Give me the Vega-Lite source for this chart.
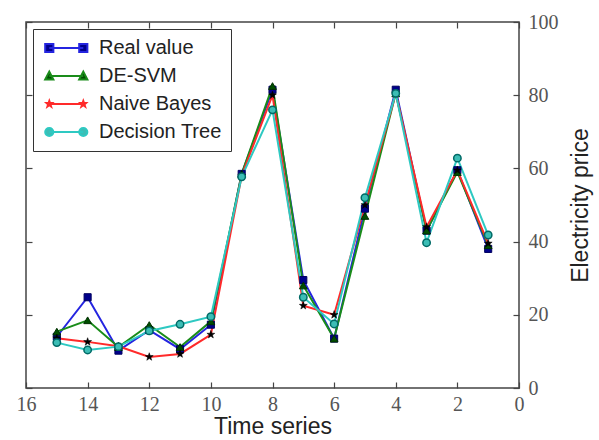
{
  "$schema": "https://vega.github.io/schema/vega-lite/v6.json",
  "width": 493,
  "height": 366,
  "autosize": {"type": "none"},
  "padding": {"left": 26, "top": 22, "right": 80, "bottom": 52},
  "background": "white",
  "config": {
    "view": {"stroke": "#444", "strokeWidth": 1.5},
    "axis": {"grid": false, "domain": false, "tickColor": "#444", "tickWidth": 1.2, "labelFlush": false},
    "legend": {"orient": "top-left", "offset": 7, "padding": 9, "strokeColor": "#333", "fillColor": "white",
      "labelFont": "Liberation Sans", "labelFontSize": 20, "labelColor": "#222", "rowPadding": 8, "labelOffset": 37,
      "symbolSize": 185, "symbolStrokeWidth": 2, "symbolOpacity": 1}
  },
  "data": {"values": [
    {"t":15,"series":"Real value","value":14},
    {"t":14,"series":"Real value","value":24.8},
    {"t":13,"series":"Real value","value":10.2},
    {"t":12,"series":"Real value","value":15.8},
    {"t":11,"series":"Real value","value":10.6},
    {"t":10,"series":"Real value","value":17.3},
    {"t":9,"series":"Real value","value":58.5},
    {"t":8,"series":"Real value","value":81.5},
    {"t":7,"series":"Real value","value":29.5},
    {"t":6,"series":"Real value","value":13.5},
    {"t":5,"series":"Real value","value":49},
    {"t":4,"series":"Real value","value":81.5},
    {"t":3,"series":"Real value","value":43},
    {"t":2,"series":"Real value","value":59.5},
    {"t":1,"series":"Real value","value":38},
    {"t":15,"series":"DE-SVM","value":15.4},
    {"t":14,"series":"DE-SVM","value":18.5},
    {"t":13,"series":"DE-SVM","value":11.2},
    {"t":12,"series":"DE-SVM","value":17.2},
    {"t":11,"series":"DE-SVM","value":11.2},
    {"t":10,"series":"DE-SVM","value":18.2},
    {"t":9,"series":"DE-SVM","value":58.5},
    {"t":8,"series":"DE-SVM","value":82.5},
    {"t":7,"series":"DE-SVM","value":28},
    {"t":6,"series":"DE-SVM","value":13.5},
    {"t":5,"series":"DE-SVM","value":47},
    {"t":4,"series":"DE-SVM","value":80.5},
    {"t":3,"series":"DE-SVM","value":43},
    {"t":2,"series":"DE-SVM","value":59},
    {"t":1,"series":"DE-SVM","value":39},
    {"t":15,"series":"Naive Bayes","value":13.6},
    {"t":14,"series":"Naive Bayes","value":12.6},
    {"t":13,"series":"Naive Bayes","value":11.4},
    {"t":12,"series":"Naive Bayes","value":8.5},
    {"t":11,"series":"Naive Bayes","value":9.3},
    {"t":10,"series":"Naive Bayes","value":14.6},
    {"t":9,"series":"Naive Bayes","value":58},
    {"t":8,"series":"Naive Bayes","value":80},
    {"t":7,"series":"Naive Bayes","value":22.5},
    {"t":6,"series":"Naive Bayes","value":20},
    {"t":5,"series":"Naive Bayes","value":50},
    {"t":4,"series":"Naive Bayes","value":80.5},
    {"t":3,"series":"Naive Bayes","value":44},
    {"t":2,"series":"Naive Bayes","value":59.5},
    {"t":1,"series":"Naive Bayes","value":39.5},
    {"t":15,"series":"Decision Tree","value":12.4},
    {"t":14,"series":"Decision Tree","value":10.4},
    {"t":13,"series":"Decision Tree","value":11.3},
    {"t":12,"series":"Decision Tree","value":15.6},
    {"t":11,"series":"Decision Tree","value":17.4},
    {"t":10,"series":"Decision Tree","value":19.5},
    {"t":9,"series":"Decision Tree","value":57.7},
    {"t":8,"series":"Decision Tree","value":76},
    {"t":7,"series":"Decision Tree","value":24.8},
    {"t":6,"series":"Decision Tree","value":17.5},
    {"t":5,"series":"Decision Tree","value":52},
    {"t":4,"series":"Decision Tree","value":80.5},
    {"t":3,"series":"Decision Tree","value":39.7},
    {"t":2,"series":"Decision Tree","value":62.8},
    {"t":1,"series":"Decision Tree","value":41.8}
  ]},
  "resolve": {"axis": {"x": "independent", "y": "independent"}},
  "layer": [
    {
      "mark": {"type": "line", "strokeWidth": 2},
      "encoding": {
        "x": {"field": "t", "type": "quantitative",
          "scale": {"domain": [0, 16], "reverse": true, "nice": false, "zero": false},
          "axis": {"orient": "bottom", "values": [0,2,4,6,8,10,12,14,16], "tickSize": -6, "labelPadding": 12,
            "labelFont": "Liberation Serif", "labelFontSize": 20, "labelColor": "#555",
            "title": "Time series", "titleFont": "Liberation Sans", "titleFontSize": 23, "titleFontWeight": "normal", "titleColor": "#222", "titlePadding": 1}},
        "y": {"field": "value", "type": "quantitative",
          "scale": {"domain": [0, 100], "nice": false},
          "axis": {"orient": "right", "values": [0,20,40,60,80,100], "tickSize": -6, "labelPadding": 15,
            "labelFont": "Liberation Serif", "labelFontSize": 20, "labelColor": "#555",
            "title": "Electricity price", "titleAngle": 270, "titleFont": "Liberation Sans", "titleFontSize": 23, "titleFontWeight": "normal", "titleColor": "#222", "titlePadding": 34}},
        "stroke": {"field": "series", "type": "nominal",
          "scale": {"domain": ["Real value","DE-SVM","Naive Bayes","Decision Tree"], "range": ["#2424e0","#1a8c1a","#ff2a2a","#2ec9c2"]},
          "legend": {"title": null}},
        "order": {"field": "t", "type": "quantitative"}
      }
    },
    {
      "transform": [{"filter": {"field": "series", "equal": "Real value"}}],
      "mark": {"type": "point", "shape": "square", "filled": true, "size": 50, "fill": "#00008b", "stroke": "#000060", "strokeWidth": 1, "opacity": 1},
      "encoding": {
        "x": {"field": "t", "type": "quantitative", "axis": {"orient": "top", "values": [0,2,4,6,8,10,12,14,16], "labels": false, "tickSize": -6, "title": null}},
        "y": {"field": "value", "type": "quantitative", "axis": {"orient": "left", "values": [0,20,40,60,80,100], "labels": false, "tickSize": -6, "title": null}}
      }
    },
    {
      "transform": [{"filter": {"field": "series", "equal": "DE-SVM"}}],
      "mark": {"type": "point", "shape": "triangle-up", "filled": true, "size": 60, "fill": "#004d00", "stroke": "#003000", "strokeWidth": 1, "opacity": 1},
      "encoding": {
        "x": {"field": "t", "type": "quantitative", "axis": null},
        "y": {"field": "value", "type": "quantitative", "axis": null}
      }
    },
    {
      "transform": [{"filter": {"field": "series", "equal": "Naive Bayes"}}],
      "mark": {"type": "point", "shape": "M0,-1L0.235,-0.324L0.951,-0.309L0.38,0.124L0.588,0.809L0,0.4L-0.588,0.809L-0.38,0.124L-0.951,-0.309L-0.235,-0.324Z", "filled": true, "size": 70, "fill": "#000000", "stroke": "#000000", "strokeWidth": 0.5, "opacity": 1},
      "encoding": {
        "x": {"field": "t", "type": "quantitative", "axis": null},
        "y": {"field": "value", "type": "quantitative", "axis": null}
      }
    },
    {
      "transform": [{"filter": {"field": "series", "equal": "Decision Tree"}}],
      "mark": {"type": "point", "shape": "circle", "filled": true, "size": 55, "fill": "#3cbdb5", "stroke": "#006a66", "strokeWidth": 1.5, "opacity": 1},
      "encoding": {
        "x": {"field": "t", "type": "quantitative", "axis": null},
        "y": {"field": "value", "type": "quantitative", "axis": null}
      }
    },
    {
      "transform": [{"filter": {"field": "value", "lt": -1000}}],
      "mark": {"type": "point", "filled": true, "size": 185, "strokeWidth": 2},
      "encoding": {
        "x": {"field": "t", "type": "quantitative", "axis": null},
        "y": {"field": "value", "type": "quantitative", "axis": null},
        "stroke": {"field": "series", "type": "nominal",
          "scale": {"domain": ["Real value","DE-SVM","Naive Bayes","Decision Tree"], "range": ["#2424e0","#1a8c1a","#ff2a2a","#2ec9c2"]},
          "legend": {"title": null}},
        "fill": {"field": "series", "type": "nominal",
          "scale": {"domain": ["Real value","DE-SVM","Naive Bayes","Decision Tree"], "range": ["#00008b","#004d00","#000000","#3cbdb5"]},
          "legend": {"title": null}},
        "shape": {"field": "series", "type": "nominal",
          "scale": {"domain": ["Real value","DE-SVM","Naive Bayes","Decision Tree"], "range": [
            "M-0.4,0H4.6M-1,-0.6H0.2V0.6H-1ZM4,-0.6H5.2V0.6H4Z",
            "M-0.4,0H4.6M-1,0.5L-0.4,-0.65L0.2,0.5ZM4,0.5L4.6,-0.65L5.2,0.5Z",
            "M-0.4,0H4.6M-0.4,-0.45L-0.294,-0.146L0.0,-0.139L-0.229,0.056L-0.136,0.364L-0.4,0.18L-0.664,0.364L-0.571,0.056L-0.8,-0.139L-0.506,-0.146ZM4.6,-0.45L4.706,-0.146L5.0,-0.139L4.771,0.056L4.864,0.364L4.6,0.18L4.336,0.364L4.429,0.056L4.2,-0.139L4.494,-0.146Z",
            "M-0.4,0H4.6M-1,0A0.6,0.6,0,1,1,0.2,0A0.6,0.6,0,1,1,-1,0ZM4,0A0.6,0.6,0,1,1,5.2,0A0.6,0.6,0,1,1,4,0Z"
          ]},
          "legend": {"title": null}}
      }
    }
  ]
}
